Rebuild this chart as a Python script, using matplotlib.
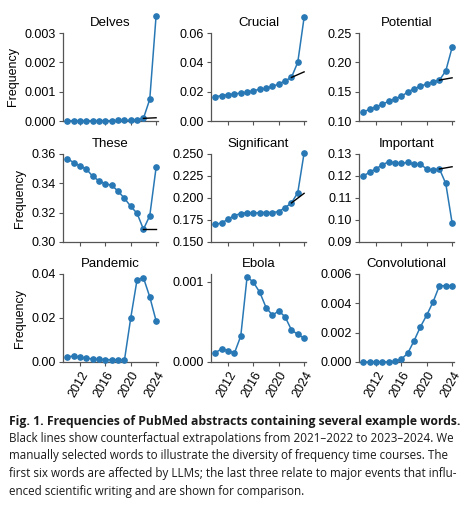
import numpy as np
import matplotlib
matplotlib.use("Agg")
import matplotlib.pyplot as plt
from matplotlib.ticker import FormatStrFormatter

plt.rcParams["font.family"] = ["Liberation Sans", "DejaVu Sans"]

BLUE = "#2878b5"
W, H = 469, 507

years = np.arange(2010, 2025)

words = ["Delves", "Crucial", "Potential",
         "These", "Significant", "Important",
         "Pandemic", "Ebola", "Convolutional"]

delves = [0.00001, 0.00001, 0.00001, 0.00001, 0.00001, 0.00001, 0.00001, 0.00001,
          0.00002, 0.00002, 0.00003, 0.00004, 0.00009, 0.00074, 0.00359]
crucial = [0.0166, 0.0173, 0.0180, 0.0184, 0.0191, 0.0196, 0.0207, 0.0216,
           0.0222, 0.0236, 0.0252, 0.0274, 0.0297, 0.0400, 0.0706]
potential = [0.1152, 0.1202, 0.1242, 0.1287, 0.1337, 0.1382, 0.1421, 0.1494,
             0.1551, 0.1590, 0.1635, 0.1669, 0.1697, 0.1854, 0.2253]
these = [0.3568, 0.3541, 0.3518, 0.3497, 0.3447, 0.3417, 0.3396, 0.3387,
         0.3346, 0.3298, 0.3243, 0.3195, 0.3087, 0.3179, 0.3508]
significant = [0.1699, 0.1718, 0.1759, 0.1801, 0.1823, 0.1835, 0.1827, 0.1835,
               0.1835, 0.1835, 0.1846, 0.1891, 0.1944, 0.2060, 0.2511]
important = [0.1200, 0.1218, 0.1233, 0.1251, 0.1265, 0.1259, 0.1257, 0.1262,
             0.1253, 0.1253, 0.1232, 0.1227, 0.1232, 0.1166, 0.0987]
pandemic = [0.0025, 0.0026, 0.0022, 0.0017, 0.0014, 0.0012, 0.0011, 0.0010,
            0.0010, 0.0008, 0.0201, 0.0375, 0.0383, 0.0296, 0.0187]
ebola = [0.000116, 0.000166, 0.000141, 0.000112, 0.000324, 0.001066, 0.000996, 0.000871,
         0.000680, 0.000585, 0.000639, 0.000564, 0.000402, 0.000344, 0.000299]
convolutional = [0.0, 0.0, 0.0, 0.0, 0.00001, 0.00005, 0.0002, 0.0006,
                 0.00145, 0.0024, 0.0032, 0.0041, 0.0052, 0.0052, 0.0052]

series = [delves, crucial, potential, these, significant, important,
          pandemic, ebola, convolutional]

# counterfactual value at 2024 (None = no line)
counterfactual = [0.00011, 0.0335, 0.1736, 0.3087, 0.2053, 0.1242, None, None, None]

yticks = [[0, 0.001, 0.002, 0.003], [0, 0.02, 0.04, 0.06], [0.10, 0.15, 0.20, 0.25],
          [0.30, 0.32, 0.34, 0.36], [0.150, 0.175, 0.200, 0.225, 0.250],
          [0.09, 0.10, 0.11, 0.12, 0.13],
          [0, 0.02, 0.04], [0, 0.001], [0, 0.002, 0.004, 0.006]]
ylims = [(0, 0.003), (0, 0.06), (0.10, 0.25), (0.30, 0.36), (0.15, 0.25),
         (0.09, 0.13), (0, 0.04), (0, 0.0011), (0, 0.006)]
yfmt = ["%.3f", "%.2f", "%.2f", "%.2f", "%.3f", "%.2f", "%.2f", "%.3f", "%.3f"]

col_left = [63, 211, 359]
row_top = [33, 154, 274]
ax_w, ax_h = 95, 88

fig = plt.figure(figsize=(W / 100, H / 100), dpi=100)

for i, word in enumerate(words):
    r, c = divmod(i, 3)
    ax = fig.add_axes([col_left[c] / W, 1 - (row_top[r] + ax_h) / H, ax_w / W, ax_h / H])
    ax.plot(years, series[i], color=BLUE, lw=1.1, marker="o", ms=3.8, clip_on=False, zorder=3)
    if counterfactual[i] is not None:
        ax.plot([2022, 2024], [series[i][12], counterfactual[i]], color="black", lw=1.0,
                clip_on=False, zorder=4)
    ax.set_xlim(2009.3, 2024.3)
    ax.set_ylim(*ylims[i])
    ax.set_yticks(yticks[i])
    ax.yaxis.set_major_formatter(FormatStrFormatter(yfmt[i]))
    ax.set_xticks([2012, 2016, 2020, 2024])
    if r == 2:
        ax.set_xticklabels(["2012", "2016", "2020", "2024"], rotation=60, ha="right",
                           rotation_mode="anchor")
    else:
        ax.set_xticklabels([])
    for s in ["top", "right"]:
        ax.spines[s].set_visible(False)
    for s in ["left", "bottom"]:
        ax.spines[s].set_color("#555555")
        ax.spines[s].set_linewidth(0.9)
    ax.tick_params(labelsize=9, length=3, width=0.8, color="#555555", pad=2)
    ax.set_title(word, fontsize=9.5, pad=5)
    if c == 0:
        ax.set_ylabel("Frequency", fontsize=9, labelpad=4)

cap_font = ["Open Sans", "DejaVu Sans"]
fig.text(9 / W, 1 - 421 / H,
         "Fig. 1. Frequencies of PubMed abstracts containing several example words.",
         fontsize=8.7, fontweight="bold", family=cap_font, va="center", color="#1a1a1a")
lines = ["Black lines show counterfactual extrapolations from 2021\u20132022 to 2023\u20132024. We",
         "manually selected words to illustrate the diversity of frequency time courses. The",
         "first six words are affected by LLMs; the last three relate to major events that influ-",
         "enced scientific writing and are shown for comparison."]
for k, line in enumerate(lines):
    fig.text(9 / W, 1 - (438.5 + 17.5 * k) / H, line, fontsize=8.35, family=cap_font,
             va="center", color="#1a1a1a")

fig.savefig("out.png", dpi=100)
